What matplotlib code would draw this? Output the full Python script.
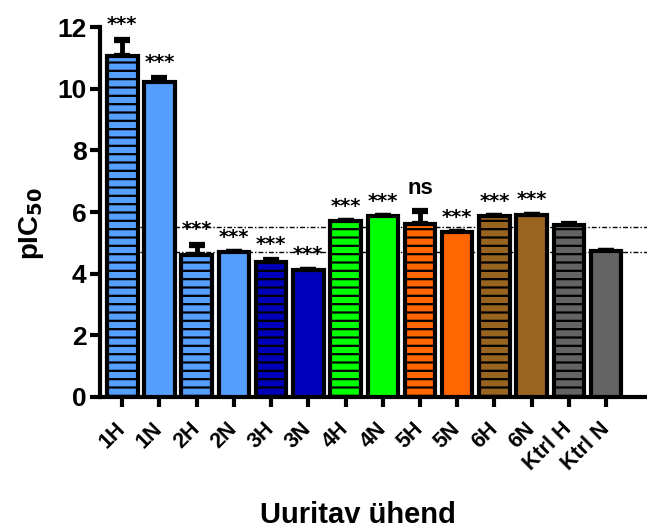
import matplotlib
matplotlib.use("Agg")
import matplotlib.pyplot as plt
import matplotlib.transforms as mtransforms
import numpy as np

plt.rcParams['font.family'] = ['Liberation Sans', 'DejaVu Sans']
plt.rcParams['hatch.linewidth'] = 1.6

labels = ["1H", "1N", "2H", "2N", "3H", "3N", "4H", "4N", "5H", "5N", "6H", "6N", "Ktrl H", "Ktrl N"]
values = [11.05, 10.22, 4.62, 4.70, 4.38, 4.12, 5.70, 5.87, 5.60, 5.35, 5.87, 5.92, 5.57, 4.74]
errors = [0.55, 0.13, 0.32, 0.0, 0.07, 0.0, 0.0, 0.0, 0.45, 0.0, 0.0, 0.0, 0.05, 0.0]
colors = ["#559FFF", "#559FFF", "#559FFF", "#559FFF", "#0000BB", "#0000BB",
          "#00FF00", "#00FF00", "#FF6600", "#FF6600", "#996420", "#996420",
          "#646464", "#646464"]
striped = [True, False] * 7
signif = ["***"] * 8 + ["ns"] + ["***"] * 3 + ["", ""]
ref_levels = [5.52, 4.72]

fig = plt.figure(figsize=(6.47, 5.23), dpi=100)
ax = fig.add_axes([0.155, 0.241, 0.845, 0.707])

x = np.arange(len(labels))
for lvl in ref_levels:
    ax.plot([0.3, 14.5], [lvl, lvl], color="black", lw=1.0,
            linestyle=(0, (3.5, 1.5, 1, 1.5)), zorder=1)

for i in range(len(labels)):
    ax.bar(x[i], values[i], width=0.82, color=colors[i], edgecolor="black",
           linewidth=3.0, hatch="--" if striped[i] else None, zorder=3)

ax.errorbar(x, values, yerr=[np.zeros(len(x)), errors], fmt="none",
            ecolor="black", elinewidth=3.5, capsize=5.5, capthick=4.5, zorder=2)

for i, s in enumerate(signif):
    if not s:
        continue
    top = values[i] + errors[i]
    if s == "ns":
        ax.annotate(s, (x[i], top), xytext=(0, 8), textcoords="offset points",
                    ha="center", va="bottom", fontsize=16, fontweight="bold")
    else:
        ax.annotate(s, (x[i], top), xytext=(0, 4), textcoords="offset points",
                    ha="center", va="bottom", fontsize=14, fontweight="bold",
                    family="DejaVu Sans")

ax.set_xlim(-0.59, 14.1)
ax.set_ylim(0, 12)
ax.set_yticks([0, 2, 4, 6, 8, 10, 12])
ax.set_xticks(x)
ax.set_xticklabels(labels, rotation=45, ha="right", va="center",
                   rotation_mode="anchor", fontsize=15.5, fontweight="bold")
shift = mtransforms.ScaledTranslation(8 / 72, -2 / 72, fig.dpi_scale_trans)
for t in ax.get_xticklabels():
    t.set_transform(t.get_transform() + shift)
for t in ax.get_yticklabels():
    t.set_fontweight("bold")
    t.set_fontsize(19)
ax.tick_params(axis="both", width=3, length=7, direction="out")
ax.tick_params(axis="x", pad=14)
ax.tick_params(axis="y", pad=3)

for side in ["top", "right"]:
    ax.spines[side].set_visible(False)
for side in ["left", "bottom"]:
    ax.spines[side].set_linewidth(3)

ax.set_ylabel("pIC$_{\\mathbf{50}}$", fontsize=20, fontweight="bold")
ax.yaxis.set_label_coords(-0.10, 0.47)
fig.text(0.553, -0.012, "Uuritav ühend", ha="center", va="bottom",
         fontsize=21, fontweight="bold")

fig.savefig("out.png", dpi=100)
